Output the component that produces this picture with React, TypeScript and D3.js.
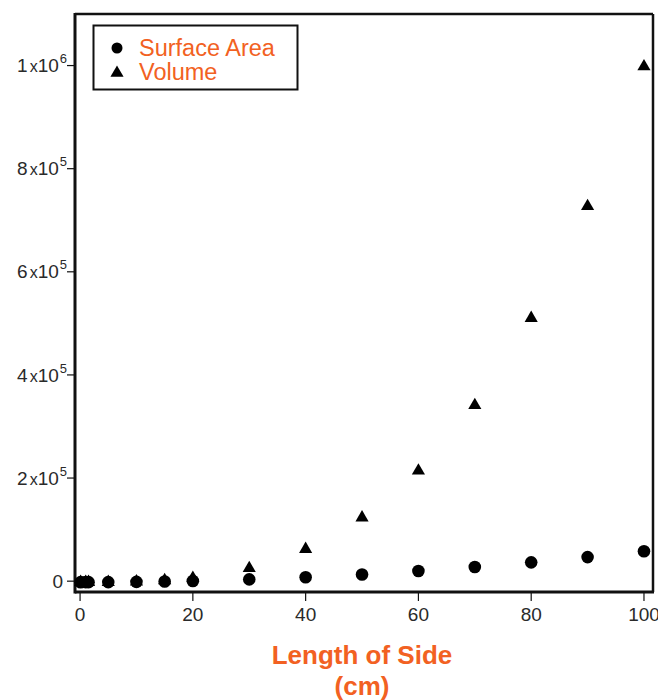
import React from 'react';
import * as d3 from 'd3';

// side length (cm) and the measured values
const sides = [0.1, 1, 1.5, 5, 10, 15, 20, 30, 40, 50, 60, 70, 80, 90, 100];
const surfaceArea = [0.06, 6, 13.5, 150, 600, 1350, 2400, 5400, 9600, 15000, 21600, 29400, 38400, 48600, 60000];
const volume = [0.001, 1, 3.4, 125, 1000, 3375, 8000, 27000, 64000, 125000, 216000, 343000, 512000, 729000, 1000000];

const xTicks = [0, 20, 40, 60, 80, 100];
const yTicks = [0, 200000, 400000, 600000, 800000, 1000000];
const legendItems = ['Surface Area', 'Volume'];

const ORANGE = '#f26122';
const FONT = '"Liberation Sans", Arial, Helvetica, sans-serif';

const App = () => {
  const width = 658;
  const height = 700;
  const margin = { top: 14, right: 5, bottom: 108, left: 75 };

  const xScale = d3.scaleLinear()
    .domain([-0.9, 101.6])
    .range([margin.left, width - margin.right]);

  const yScale = d3.scaleLinear()
    .domain([-21000, 1100000])
    .range([height - margin.bottom, margin.top]);

  const triangle = d3.symbol().type(d3.symbolTriangle).size(75)();

  const x0 = margin.left;
  const x1 = width - margin.right;
  const y0 = height - margin.bottom;
  const y1 = margin.top;

  // label for y ticks, e.g. 2x10^5
  const yLabel = (v) => {
    if (v === 0) return { base: '0', exp: null };
    const exp = Math.floor(Math.log10(v));
    const mant = Math.round(v / Math.pow(10, exp));
    return { base: mant, exp };
  };

  return (
    <svg width={width} height={height} style={{ position: 'absolute', left: 0, top: 0 }} fontFamily={FONT}>
      <rect x={0} y={0} width={width} height={height} fill="#fff" />

      {/* Frame */}
      <line x1={x0} y1={y1} x2={x1} y2={y1} stroke="#111" strokeWidth="2.5" />
      <line x1={x1} y1={y1} x2={x1} y2={y0} stroke="#111" strokeWidth="2.5" />
      <line x1={x0} y1={y1 - 1} x2={x0} y2={y0 + 1.5} stroke="#111" strokeWidth="3" />
      <line x1={x0} y1={y0} x2={x1 + 1} y2={y0} stroke="#111" strokeWidth="3" />

      {/* X axis */}
      {xTicks.map((t) => (
        <g key={t} transform={`translate(${xScale(t)},${y0})`}>
          <line y1={1} y2={9} stroke="#111" strokeWidth="1.2" />
          <text y={29} textAnchor="middle" fontSize="19" fill="#2a2a2a">{t}</text>
        </g>
      ))}
      <text x={362} y={664} textAnchor="middle" fontSize="26" fontWeight="bold" fill={ORANGE}>Length of Side</text>
      <text x={362} y={695} textAnchor="middle" fontSize="26" fontWeight="bold" fill={ORANGE}>(cm)</text>

      {/* Y axis */}
      {yTicks.map((t) => {
        const lab = yLabel(t);
        return (
          <g key={t} transform={`translate(${x0},${yScale(t)})`}>
            <line x1={-1} x2={-8} stroke="#111" strokeWidth="1.2" />
            {lab.exp === null ? (
              <text x={-12} dy="0.35em" textAnchor="end" fontSize="19" fill="#2a2a2a">{lab.base}</text>
            ) : (
              <text x={-8} dy="0.35em" textAnchor="end" fontSize="19" fill="#2a2a2a">
                {lab.base}
                <tspan fontSize="16" dx="2">x</tspan>
                10
                <tspan fontSize="13" dx="1" dy="-9">{lab.exp}</tspan>
              </text>
            )}
          </g>
        );
      })}

      {/* Volume */}
      {sides.map((s, i) => (
        <path key={`v${i}`} d={triangle} transform={`translate(${xScale(s)},${yScale(volume[i]) + 1})`} fill="#000" />
      ))}

      {/* Surface area */}
      {sides.map((s, i) => (
        <circle key={`s${i}`} cx={xScale(s)} cy={yScale(surfaceArea[i]) + 1} r="6.3" fill="#000" />
      ))}

      {/* Legend */}
      <rect x={93.5} y={25.5} width={204} height={64} fill="#fff" stroke="#111" strokeWidth="2" />
      {legendItems.map((name, i) => (
        <g key={name} transform={`translate(117,${48 + i * 24})`}>
          {i === 0
            ? <circle r="5.5" fill="#000" />
            : <path d={triangle} fill="#000" transform="translate(0,1)" />}
          <text x={22} dy="0.36em" fontSize="23.5" fill={ORANGE}>{name}</text>
        </g>
      ))}
    </svg>
  );
};

export default App;
